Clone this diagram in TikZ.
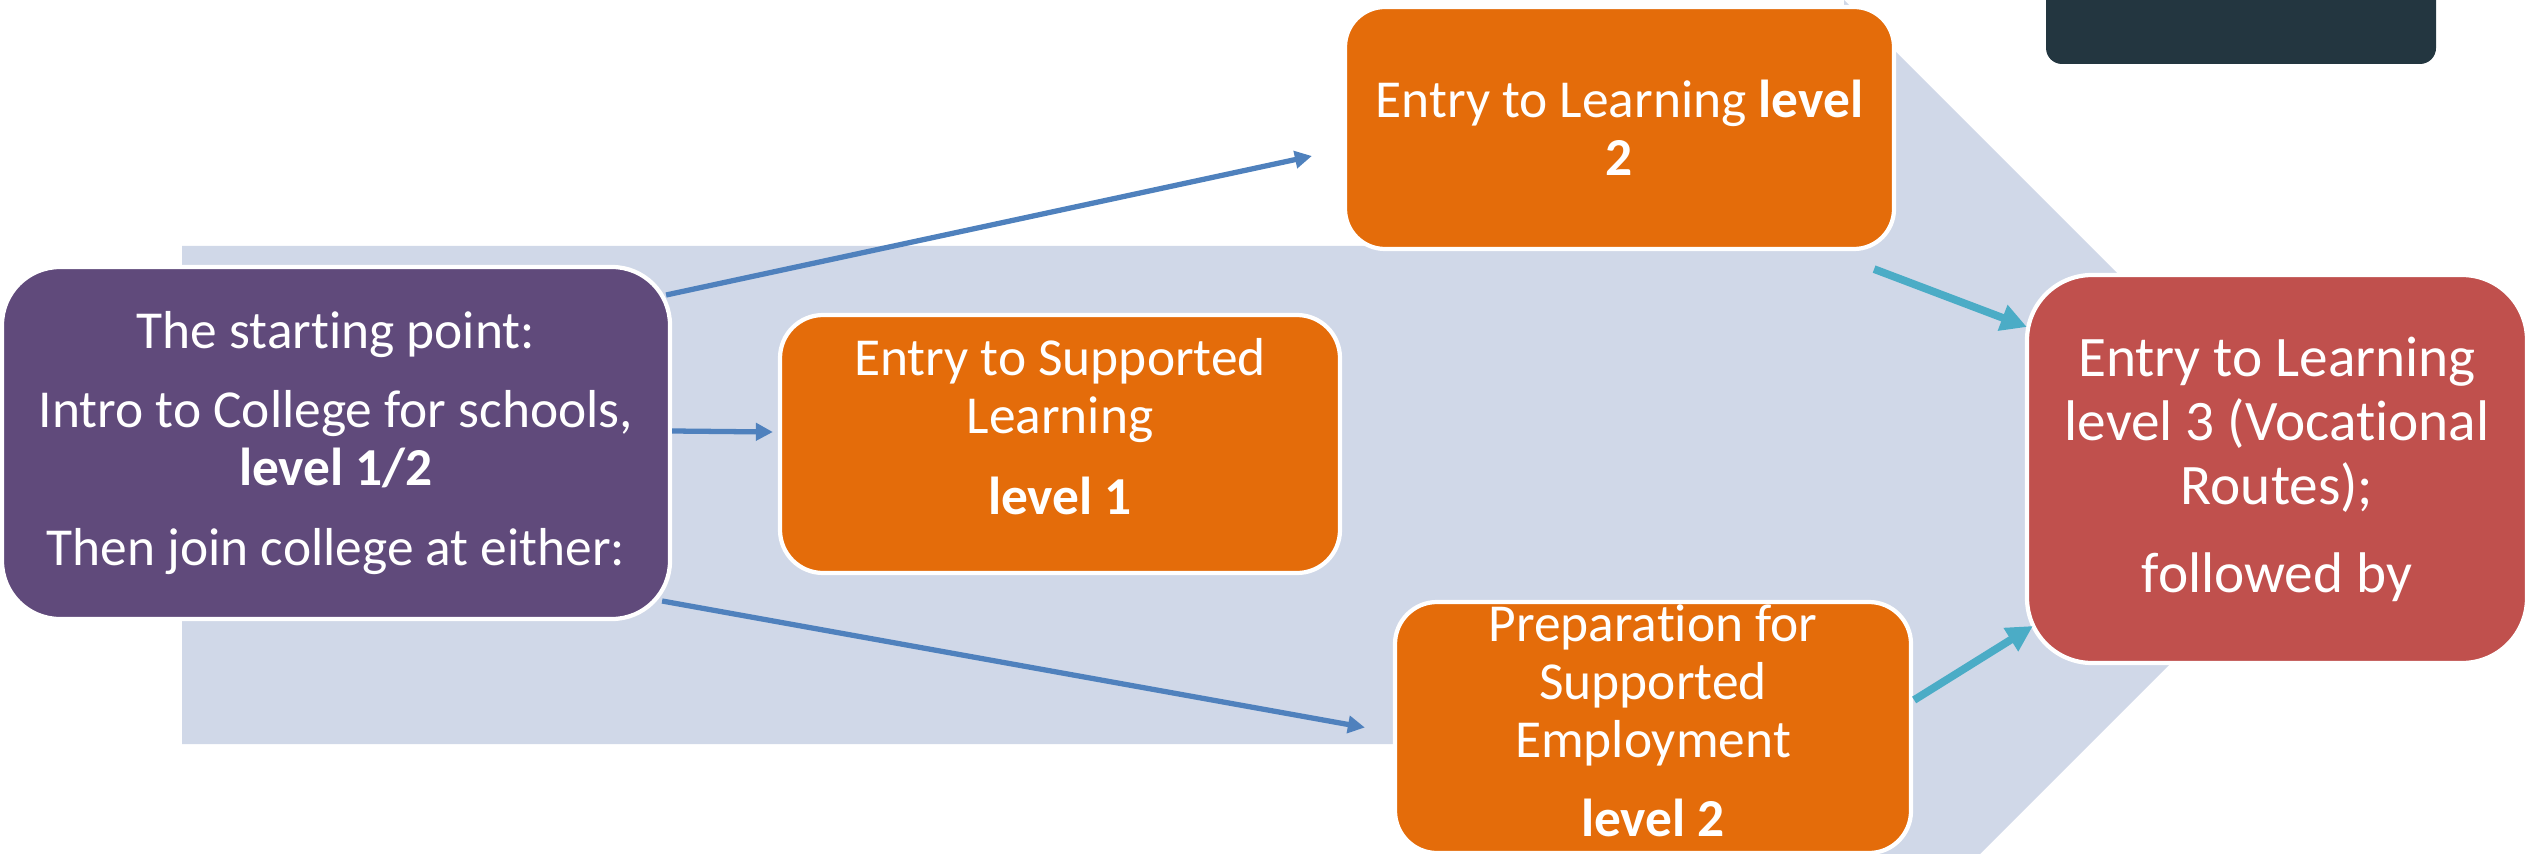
\documentclass[tikz,border=0pt]{standalone}
\usepackage{fontspec}
\setmainfont{Carlito}[Ligatures=NoCommon, RawFeature={-calt;-clig;-liga}]
\usepackage{xcolor}
\usepackage{tikz}
\usetikzlibrary{arrows.meta}

\definecolor{chevron}{RGB}{208,216,232}
\definecolor{plum}{RGB}{96,74,123}
\definecolor{pumpkin}{RGB}{228,108,10}
\definecolor{brick}{RGB}{192,80,77}
\definecolor{slate}{RGB}{35,54,64}
\definecolor{steel}{RGB}{79,129,189}
\definecolor{aqua}{RGB}{75,172,198}

\begin{document}
\begin{tikzpicture}[x=0.1mm, y=-0.1mm,
    box/.style={draw=white, line width=1.2pt, inner sep=0pt},
    txt/.style={text=white, align=center, inner sep=0pt, font=\fontsize{15.2}{16.5}\selectfont},
    thin arrow/.style={-{Triangle[length=1.7mm, width=1.7mm]}, steel, line width=1.5pt},
    thick arrow/.style={-{Triangle[length=2.6mm, width=2.6mm]}, aqua, line width=2.2pt}]
    \useasboundingbox (0,0) rectangle (2526,854);
    \begin{scope}
      \clip (0,0) rectangle (2526,854);
      \fill[chevron] (182,246) -- (1844,246) -- (1844,0) -- (2339,495)
      -- (1844,990) -- (1844,744) -- (182,744) -- cycle;
      \fill[slate, rounded corners=1.6mm] (2046,-60) rectangle (2436,64);
    \end{scope}

    \node[box, fill=plum, rounded corners=5.8mm, minimum width=66.8mm, minimum height=35.2mm] (start) at (336,443) {};
    \node[box, fill=pumpkin, rounded corners=4mm, minimum width=54.9mm, minimum height=24.2mm] (elt2) at (1619.5,128) {};
    \node[box, fill=pumpkin, rounded corners=4.3mm, minimum width=56mm, minimum height=25.8mm] (elt1) at (1060,444) {};
    \node[box, fill=pumpkin, rounded corners=4.2mm, minimum width=51.6mm, minimum height=25.1mm] (prep) at (1653,727.5) {};
    \node[box, fill=brick, rounded corners=6.5mm, minimum width=50mm, minimum height=38.8mm] (goal) at (2277,469) {};

    \node[txt] (start-text) at (start.center)
    {The starting point:\\[6pt] Intro to College for schools,\\ \textbf{level 1/2}\\[6pt] Then join college at either:};
    \node[txt] (elt2-text) at (elt2.center) {Entry to Learning \textbf{level}\\ \textbf{2}};
    \node[txt, yshift=1.75mm] (elt1-text) at (elt1.center) {Entry to Supported\\ Learning\\[6.5pt] \textbf{level 1}};
    \node[txt, yshift=0.65mm] (prep-text) at (prep.center)
    {Preparation for\\ Supported\\ Employment\\[6pt] \textbf{level 2}};
    \node[txt, font=\fontsize{16.3}{18.3}\selectfont] (goal-text) at (goal.center)
    {Entry to Learning\\ level 3 (Vocational\\ Routes);\\[6.6pt] followed by};

    \draw[thin arrow] ([xshift=-0.6mm, yshift=14.8mm]start.east) -- ([xshift=-3.1mm, yshift=-2.8mm]elt2.west);
    \draw[thin arrow] ([yshift=1.2mm]start.east) -- ([xshift=-0.5mm, yshift=1.2mm]elt1.west);
    \draw[thin arrow] ([xshift=-1mm, yshift=-15.8mm]start.east) -- ([xshift=-2.8mm]prep.west);
    \draw[thick arrow] ([xshift=-2.2mm, yshift=-1.8mm]elt2.south east) -- ([xshift=0.2mm, yshift=14.2mm]goal.west);
    \draw[thick arrow] ([xshift=0.1mm, yshift=2.75mm]prep.east) -- ([xshift=0.8mm, yshift=-15.7mm]goal.west);
  \end{tikzpicture}
\end{document}
